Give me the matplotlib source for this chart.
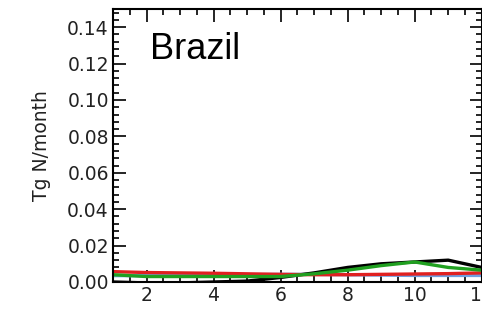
import matplotlib
matplotlib.use("Agg")
import matplotlib.pyplot as plt
from matplotlib.ticker import MultipleLocator, FormatStrFormatter

months = [1, 2, 3, 4, 5, 6, 7, 8, 9, 10, 11, 12]
black = [0.0000, -0.0005, -0.0005, 0.0000, 0.0005, 0.0025, 0.0050, 0.0080, 0.0100, 0.0110, 0.0120, 0.0080]
green = [0.0040, 0.0030, 0.0030, 0.0030, 0.0030, 0.0030, 0.0045, 0.0065, 0.0090, 0.0110, 0.0080, 0.0065]
red = [0.0057, 0.0052, 0.0050, 0.0048, 0.0045, 0.0042, 0.0040, 0.0040, 0.0042, 0.0044, 0.0046, 0.0050]
blue = [0.0035, 0.0035, 0.0035, 0.0038, 0.0040, 0.0042, 0.0042, 0.0040, 0.0038, 0.0036, 0.0036, 0.0036]

plt.rcParams['font.family'] = ['DejaVu Sans']

fig = plt.figure(figsize=(4.82, 3.21), dpi=100)
ax = fig.add_axes([0.2344, 0.1215, 0.765, 0.8505])

ax.plot(months, blue, color='#6fa0e0', lw=2.4)
ax.plot(months, black, color='black', lw=2.4)
ax.plot(months, red, color='#e02020', lw=2.4)
ax.plot(months, green, color='#20a020', lw=2.4)

ax.set_xlim(1, 12)
ax.set_ylim(0, 0.15)
ax.xaxis.set_major_locator(MultipleLocator(2))
ax.xaxis.set_minor_locator(MultipleLocator(0.5))
ax.yaxis.set_major_locator(MultipleLocator(0.02))
ax.yaxis.set_minor_locator(MultipleLocator(0.004))
ax.yaxis.set_major_formatter(FormatStrFormatter('%.2f'))
ax.tick_params(which='both', direction='in', top=True, right=True, labelsize=13.5, colors='black', width=1.2)
ax.tick_params(which='major', length=9, pad=3)
ax.tick_params(which='minor', length=4.5)
for t in ax.get_xticklabels() + ax.get_yticklabels():
    t.set_color('#222222')
for s in ax.spines.values():
    s.set_linewidth(1.5)

ax.set_ylabel('Tg N/month', fontsize=13.5, labelpad=12, color='#222222')
ax.text(0.1, 0.85, 'Brazil', transform=ax.transAxes, fontsize=26, va='center', ha='left',
        family='Liberation Sans')

fig.savefig('out.png', dpi=100)
